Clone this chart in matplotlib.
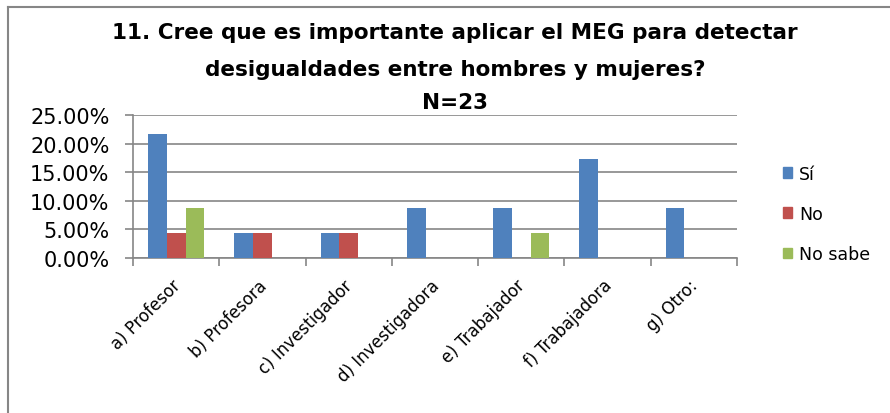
import matplotlib
matplotlib.use("Agg")
import matplotlib.pyplot as plt
import matplotlib.transforms as mtransforms
from matplotlib.lines import Line2D
import numpy as np

categories = ["a) Profesor", "b) Profesora", "c) Investigador", "d) Investigadora",
              "e) Trabajador", "f) Trabajadora", "g) Otro:"]
series_names = ["Sí", "No", "No sabe"]
si = [21.74, 4.35, 4.35, 8.70, 8.70, 17.39, 8.70]
no = [4.35, 4.35, 4.35, 0.0, 0.0, 0.0, 0.0]
no_sabe = [8.70, 0.0, 0.0, 0.0, 4.35, 0.0, 0.0]
yticks = [0, 5, 10, 15, 20, 25]
title_lines = ["11. Cree que es importante aplicar el MEG para detectar",
               "desigualdades entre hombres y mujeres?",
               "N=23"]

colors = ["#4F81BD", "#C0504D", "#9BBB59"]
grid_col = "#868686"

plt.rcParams['font.family'] = ['DejaVu Sans']
fig = plt.figure(figsize=(8.9, 4.14), dpi=100)
ax = fig.add_axes([133/890, 1-259/414, (737-133)/890, (259-116)/414])

x = np.arange(len(categories))
w = 0.217
for k, (vals, name) in enumerate(zip([si, no, no_sabe], series_names)):
    ax.bar(x + (k-1)*w, vals, width=w, color=colors[k], label=name, zorder=3)

ax.set_xlim(-0.5, len(categories)-0.5)
ax.set_ylim(0, 25)
ax.set_yticks(yticks)
ax.set_yticklabels([f"{v:.2f}%" for v in yticks], fontsize=15)
ax.yaxis.grid(True, color=grid_col, linewidth=1.2, zorder=0)
ax.set_axisbelow(True)

ax.set_xticks(np.arange(len(categories)+1) - 0.5)
ax.set_xticklabels([])
ax.tick_params(axis='x', direction='out', length=6, color=grid_col, width=1.2)
ax.tick_params(axis='y', direction='out', length=6, color=grid_col, width=1.2, pad=11)
for s in ['top', 'right']:
    ax.spines[s].set_visible(False)
for s in ['left', 'bottom']:
    ax.spines[s].set_color(grid_col)
    ax.spines[s].set_linewidth(1.2)

offset = mtransforms.ScaledTranslation(-0.05, -0.18, fig.dpi_scale_trans)
for i, c in enumerate(categories):
    ax.text(i, 0, c, rotation=45, ha='right', va='top', rotation_mode='anchor',
            fontsize=12, transform=ax.get_xaxis_transform() + offset)

handles = [plt.Rectangle((0, 0), 1, 1, color=c) for c in colors]
leg = fig.legend(handles, series_names, loc='upper left', bbox_to_anchor=(767/890, 1-150/414),
                 frameon=False, fontsize=12.5, handlelength=0.55, handleheight=0.55,
                 handletextpad=0.4, labelspacing=1.28)

for ty, t in zip([33, 70, 103], title_lines):
    fig.text(0.511, 1-ty/414, t, ha='center', va='center', fontsize=15.5, fontweight='bold')

fig.add_artist(Line2D([8/890, 8/890], [0, 1-8/414], transform=fig.transFigure, color=grid_col, linewidth=1.5))
fig.add_artist(Line2D([8/890, 1], [1-8/414, 1-8/414], transform=fig.transFigure, color=grid_col, linewidth=1.5))

fig.savefig("out.png", dpi=100)
